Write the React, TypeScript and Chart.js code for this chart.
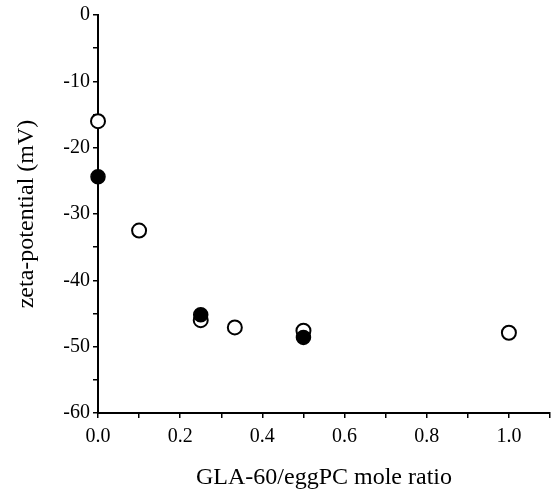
import React, { useEffect, useRef } from "react";
import { Chart, registerables } from "chart.js";

Chart.register(...registerables);

const openX = [0, 0.1, 0.25, 0.333, 0.5, 1.0];
const openY = [-16, -32.5, -46, -47.1, -47.6, -47.9];
const filledX = [0, 0.25, 0.5];
const filledY = [-24.4, -45.2, -48.6];

const xTitle = "GLA-60/eggPC mole ratio";
const yTitle = "zeta-potential (mV)";

const FONT = "'Liberation Serif', 'Times New Roman', serif";

export default function App() {
  const ref = useRef<HTMLCanvasElement | null>(null);

  useEffect(() => {
    if (!ref.current) return;
    const chart = new Chart(ref.current, {
      type: "scatter",
      data: {
        datasets: [
          {
            label: "filled",
            data: filledX.map((x, i) => ({ x, y: filledY[i] })),
            backgroundColor: "#000",
            borderColor: "#000",
            borderWidth: 1.5,
            pointRadius: 7,
            clip: false,
          },
          {
            label: "open",
            data: openX.map((x, i) => ({ x, y: openY[i] })),
            backgroundColor: "#fff",
            borderColor: "#000",
            borderWidth: 2,
            pointRadius: 7,
            clip: false,
          },
        ],
      },
      options: {
        animation: false,
        responsive: true,
        maintainAspectRatio: false,
        layout: { padding: { top: 14, right: 6, left: 0, bottom: 0 } },
        plugins: {
          legend: { display: false },
          tooltip: { enabled: false },
        },
        scales: {
          x: {
            type: "linear",
            min: 0,
            max: 1.1,
            afterFit: (s: any) => {
              s.height = 83;
            },
            border: { color: "#000", width: 2 },
            grid: {
              drawOnChartArea: false,
              drawTicks: true,
              tickLength: 5,
              color: "#000",
              lineWidth: 1.5,
            },
            ticks: {
              stepSize: 0.1,
              autoSkip: false,
              maxRotation: 0,
              padding: 7,
              color: "#000",
              font: { family: FONT, size: 20 },
              callback: (v: any) => {
                const k = Math.round(Number(v) * 10);
                return k % 2 === 0 ? (k / 10).toFixed(1) : "";
              },
            },
            title: {
              display: true,
              text: xTitle,
              color: "#000",
              font: { family: FONT, size: 24 },
              padding: { top: 0, bottom: 4 },
            },
          },
          y: {
            type: "linear",
            min: -60,
            max: 0,
            afterFit: (s: any) => {
              s.width = 98;
            },
            border: { color: "#000", width: 2 },
            grid: {
              drawOnChartArea: false,
              drawTicks: true,
              tickLength: 5,
              color: "#000",
              lineWidth: 1.5,
            },
            ticks: {
              stepSize: 5,
              autoSkip: false,
              padding: 3,
              color: "#000",
              font: { family: FONT, size: 20 },
              callback: (v: any) => {
                const n = Math.round(Number(v));
                return n % 10 === 0 ? String(n) : "";
              },
            },
            title: {
              display: true,
              text: yTitle,
              color: "#000",
              font: { family: FONT, size: 24 },
              padding: { top: 12, bottom: 0 },
            },
          },
        },
      },
    });
    return () => chart.destroy();
  }, []);

  return (
    <div
      style={{
        position: "absolute",
        left: 0,
        top: 0,
        width: 559,
        height: 496,
        background: "#fff",
      }}
    >
      <canvas ref={ref} />
    </div>
  );
}
